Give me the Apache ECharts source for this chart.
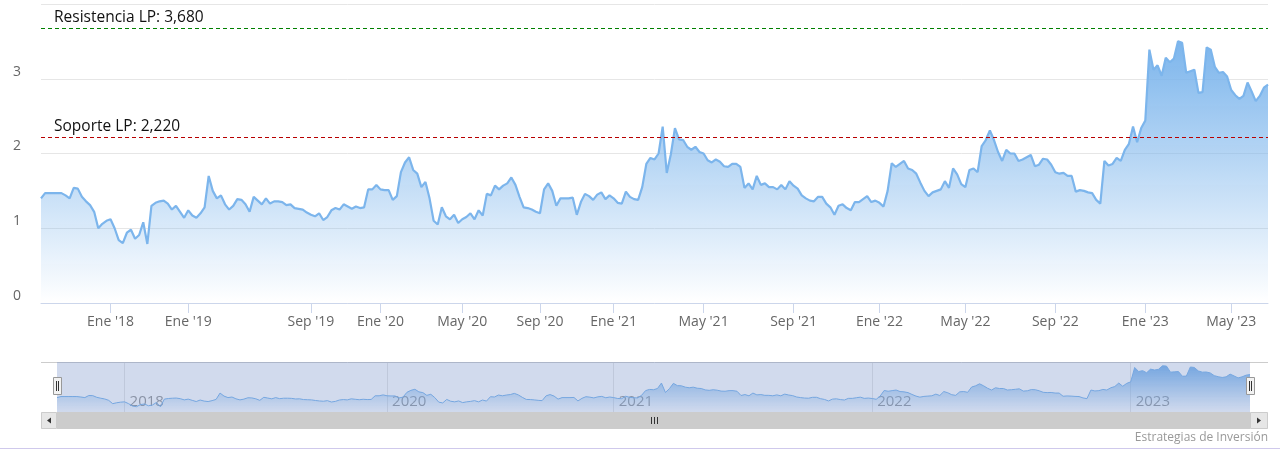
<!DOCTYPE html>
<html>
<head>
<meta charset="utf-8">
<script src="https://cdn.jsdelivr.net/npm/echarts@6/dist/echarts.min.js"></script>
<style>
  html, body { margin: 0; padding: 0; background: #fff; }
  #chart { width: 1280px; height: 467px; }
</style>
</head>
<body>
<div id="chart"></div>
<script>
// ---- DATA ----
// Ordinal axis: each span between these dates holds the listed number of observations
const spanDates = ['2017-07-03','2018-01-01','2019-01-01','2019-09-01','2020-01-01','2020-05-01','2020-09-01','2021-01-01','2021-05-01','2021-09-01','2022-01-01','2022-05-01','2022-09-01','2023-01-01','2023-05-01','2023-06-16'];
const spanPoints = [17,19,30,17,20,19,18,22,22,21,21,22,22,21,9];

const values = [
  1.40,1.47,1.47,1.47,1.47,1.47,1.44,1.40,1.54,1.53,1.42,
  1.36,1.31,1.22,1.00,1.06,1.10,1.12,1.00,0.84,0.80,
  0.94,0.98,0.86,0.91,1.08,0.79,1.30,1.34,1.36,1.37,
  1.33,1.25,1.30,1.22,1.14,1.24,1.17,1.14,1.20,1.28,
  1.70,1.50,1.40,1.44,1.32,1.25,1.30,1.39,1.38,1.32,
  1.22,1.42,1.37,1.32,1.40,1.33,1.36,1.36,1.35,1.31,
  1.32,1.27,1.26,1.25,1.21,1.18,1.16,1.20,1.11,1.15,
  1.24,1.27,1.25,1.32,1.29,1.26,1.29,1.27,1.28,1.52,
  1.52,1.58,1.52,1.51,1.51,1.38,1.43,1.75,1.88,1.95,
  1.78,1.73,1.55,1.62,1.40,1.10,1.05,1.28,1.16,1.12,
  1.18,1.07,1.12,1.15,1.20,1.12,1.24,1.17,1.46,1.44,
  1.57,1.52,1.57,1.60,1.68,1.58,1.42,1.28,1.27,1.25,
  1.22,1.20,1.52,1.60,1.50,1.30,1.40,1.40,1.40,1.41,
  1.18,1.35,1.46,1.43,1.38,1.45,1.48,1.39,1.44,1.40,
  1.34,1.33,1.49,1.42,1.39,1.38,1.55,1.86,1.94,1.92,
  2.00,2.36,1.74,1.99,2.34,2.19,2.18,2.09,2.05,2.09,
  2.02,2.00,1.91,1.88,1.92,1.89,1.83,1.82,1.86,1.86,
  1.82,1.54,1.60,1.52,1.70,1.58,1.60,1.55,1.55,1.52,
  1.58,1.52,1.63,1.57,1.53,1.44,1.40,1.37,1.36,1.42,
  1.42,1.33,1.28,1.18,1.30,1.32,1.27,1.24,1.35,1.35,
  1.39,1.43,1.35,1.37,1.34,1.29,1.50,1.87,1.82,1.86,
  1.90,1.80,1.78,1.73,1.61,1.50,1.43,1.48,1.50,1.52,
  1.63,1.54,1.80,1.72,1.59,1.55,1.78,1.80,1.75,2.10,
  2.18,2.31,2.18,2.02,1.90,2.05,2.00,2.00,1.90,1.92,
  1.95,1.98,1.83,1.85,1.93,1.92,1.85,1.75,1.73,1.74,
  1.70,1.70,1.49,1.51,1.50,1.48,1.47,1.38,1.33,1.90,
  1.84,1.86,1.94,1.90,2.05,2.13,2.36,2.15,2.34,2.44,
  3.39,3.12,3.18,3.04,3.28,3.22,3.27,3.50,3.48,3.08,
  3.10,3.12,2.81,2.82,3.42,3.39,3.16,3.08,3.09,3.03,
  2.85,2.78,2.73,2.77,2.95,2.83,2.70,2.77,2.88,2.92
];

const tickDates  = ['2018-01-01','2019-01-01','2019-09-01','2020-01-01','2020-05-01','2020-09-01','2021-01-01','2021-05-01','2021-09-01','2022-01-01','2022-05-01','2022-09-01','2023-01-01','2023-05-01'];
const tickLabels = ["Ene '18","Ene '19","Sep '19","Ene '20","May '20","Sep '20","Ene '21","May '21","Sep '21","Ene '22","May '22","Sep '22","Ene '23","May '23"];

const navTickDates  = ['2018-01-01','2020-01-01','2021-01-01','2022-01-01','2023-01-01'];
const navTickLabels = ['2018','2020','2021','2022','2023'];

const levelValues = [3.68, 2.22];
const levelNames  = ['Resistencia LP: 3,680', 'Soporte LP: 2,220'];
const levelColors = ['#008000', '#b80000'];

const yTicks = [0, 1, 2, 3, 4];

// ---- BUILD CATEGORIES ----
function buildDates() {
  const out = [];
  for (let k = 0; k < spanPoints.length; k++) {
    const a = Date.parse(spanDates[k] + 'T00:00:00Z');
    const b = Date.parse(spanDates[k + 1] + 'T00:00:00Z');
    const n = spanPoints[k];
    for (let j = 0; j < n; j++) {
      out.push(new Date(a + (b - a) * j / n).toISOString().slice(0, 10));
    }
  }
  out.push(spanDates[spanDates.length - 1]);
  return out;
}
const dates = buildDates();

const tickMap = {}; tickDates.forEach((d, i) => tickMap[d] = tickLabels[i]);
const navMap = {}; navTickDates.forEach((d, i) => navMap[d] = navTickLabels[i]);
const isTick = (i, v) => tickMap[v] !== undefined;
const isNavTick = (i, v) => navMap[v] !== undefined;

const FONT = '"Open Sans", "DejaVu Sans", sans-serif';
const areaGrad = new echarts.graphic.LinearGradient(0, 0, 0, 1, [
  { offset: 0, color: 'rgba(124,181,236,1)' },
  { offset: 1, color: 'rgba(124,181,236,0)' }
]);

const chart = echarts.init(document.getElementById('chart'), null, { renderer: 'canvas' });

const option = {
  animation: false,
  textStyle: { fontFamily: FONT },
  grid: [
    { left: 41, right: 12, top: 4, height: 299 },
    { left: 57, right: 30, top: 362, height: 50 }
  ],
  xAxis: [
    {
      type: 'category', gridIndex: 0, data: dates, boundaryGap: false,
      axisLine: { show: true, lineStyle: { color: '#ccd6eb' } },
      axisTick: { show: true, interval: isTick, length: 10, lineStyle: { color: '#ccd6eb' } },
      axisLabel: { interval: isTick, formatter: v => tickMap[v] || '', color: '#666', fontSize: 14, margin: 12, fontFamily: FONT },
      splitLine: { show: false }
    },
    {
      type: 'category', gridIndex: 1, data: dates, boundaryGap: false,
      axisLine: { show: false },
      axisTick: { show: false },
      axisLabel: { inside: true, interval: isNavTick, formatter: v => navMap[v] || '', color: '#999', fontSize: 15,
                   align: 'left', verticalAlign: 'bottom', margin: 3, padding: [0, 0, 0, 5], fontFamily: FONT },
      splitLine: { show: true, interval: isNavTick, lineStyle: { color: '#e6e6e6' } }
    }
  ],
  yAxis: [
    {
      type: 'value', gridIndex: 0, min: yTicks[0], max: yTicks[yTicks.length - 1], interval: 1,
      axisLine: { show: false }, axisTick: { show: false },
      axisLabel: { showMaxLabel: false, color: '#666', fontSize: 14, verticalAlign: 'bottom', margin: 20, fontFamily: FONT },
      splitLine: { lineStyle: { color: '#e6e6e6' } }
    },
    { type: 'value', gridIndex: 1, min: 0.45, max: 3.75, show: false, splitLine: { show: false } }
  ],
  series: [
    {
      type: 'line', xAxisIndex: 0, yAxisIndex: 0, data: values,
      showSymbol: false, symbol: 'none',
      lineStyle: { color: '#7cb5ec', width: 2.2 },
      itemStyle: { color: '#7cb5ec' },
      areaStyle: { color: areaGrad, opacity: 1 },
      markLine: {
        silent: true, symbol: ['none', 'none'],
        data: levelValues.map((v, i) => ({
          yAxis: v, name: levelNames[i],
          lineStyle: { color: levelColors[i], type: [4, 3], width: 1.2 },
          label: { show: true, position: 'insideStartTop', formatter: levelNames[i], color: '#111',
                   fontSize: 15.5, distance: [13, 2], fontFamily: FONT }
        }))
      }
    },
    {
      type: 'line', xAxisIndex: 1, yAxisIndex: 1, data: values,
      showSymbol: false, symbol: 'none',
      lineStyle: { color: '#7cb5ec', width: 1 },
      areaStyle: { color: areaGrad, opacity: 1 }
    }
  ],
  graphic: [
    { type: 'line', silent: true, z: 90, shape: { x1: 41, y1: 362.5, x2: 1268, y2: 362.5 }, style: { stroke: '#cccccc', lineWidth: 1 } },
    { type: 'rect', silent: true, z: 100, shape: { x: 57, y: 362, width: 1193, height: 50 }, style: { fill: 'rgba(102,133,194,0.3)' } },
    // handles
    { type: 'rect', silent: true, z: 110, shape: { x: 53.5, y: 377.5, width: 8, height: 17 }, style: { fill: '#f2f2f2', stroke: '#999', lineWidth: 1 } },
    { type: 'line', silent: true, z: 111, shape: { x1: 56.5, y1: 381, x2: 56.5, y2: 391 }, style: { stroke: '#333', lineWidth: 1 } },
    { type: 'line', silent: true, z: 111, shape: { x1: 58.5, y1: 381, x2: 58.5, y2: 391 }, style: { stroke: '#333', lineWidth: 1 } },
    { type: 'rect', silent: true, z: 110, shape: { x: 1246.5, y: 377.5, width: 8, height: 17 }, style: { fill: '#f2f2f2', stroke: '#999', lineWidth: 1 } },
    { type: 'line', silent: true, z: 111, shape: { x1: 1249.5, y1: 381, x2: 1249.5, y2: 391 }, style: { stroke: '#333', lineWidth: 1 } },
    { type: 'line', silent: true, z: 111, shape: { x1: 1251.5, y1: 381, x2: 1251.5, y2: 391 }, style: { stroke: '#333', lineWidth: 1 } },
    // scrollbar
    { type: 'rect', silent: true, z: 100, shape: { x: 41, y: 412, width: 1227, height: 17 }, style: { fill: '#f2f2f2' } },
    { type: 'rect', silent: true, z: 101, shape: { x: 57, y: 412, width: 1193, height: 17 }, style: { fill: '#cccccc' } },
    { type: 'rect', silent: true, z: 101, shape: { x: 41.5, y: 412.5, width: 15, height: 16 }, style: { fill: '#e6e6e6', stroke: '#cccccc', lineWidth: 1 } },
    { type: 'polygon', silent: true, z: 102, shape: { points: [[47, 420.5], [51, 417.5], [51, 423.5]] }, style: { fill: '#333' } },
    { type: 'rect', silent: true, z: 101, shape: { x: 1250.5, y: 412.5, width: 17, height: 16 }, style: { fill: '#e6e6e6', stroke: '#cccccc', lineWidth: 1 } },
    { type: 'polygon', silent: true, z: 102, shape: { points: [[1261, 420.5], [1257, 417.5], [1257, 423.5]] }, style: { fill: '#333' } },
    { type: 'line', silent: true, z: 102, shape: { x1: 651.5, y1: 417, x2: 651.5, y2: 424 }, style: { stroke: '#333', lineWidth: 1 } },
    { type: 'line', silent: true, z: 102, shape: { x1: 654.5, y1: 417, x2: 654.5, y2: 424 }, style: { stroke: '#333', lineWidth: 1 } },
    { type: 'line', silent: true, z: 102, shape: { x1: 657.5, y1: 417, x2: 657.5, y2: 424 }, style: { stroke: '#333', lineWidth: 1 } },
    // credits
    { type: 'text', silent: true, z: 100, style: { x: 1268, y: 438, text: 'Estrategias de Inversión', align: 'right', verticalAlign: 'middle', fill: '#999', font: '12px ' + FONT } },
    { type: 'line', silent: true, z: 100, shape: { x1: 0, y1: 448.5, x2: 1280, y2: 448.5 }, style: { stroke: '#cfc9ec', lineWidth: 1 } }
  ]
};
chart.setOption(option);
</script>
</body>
</html>
